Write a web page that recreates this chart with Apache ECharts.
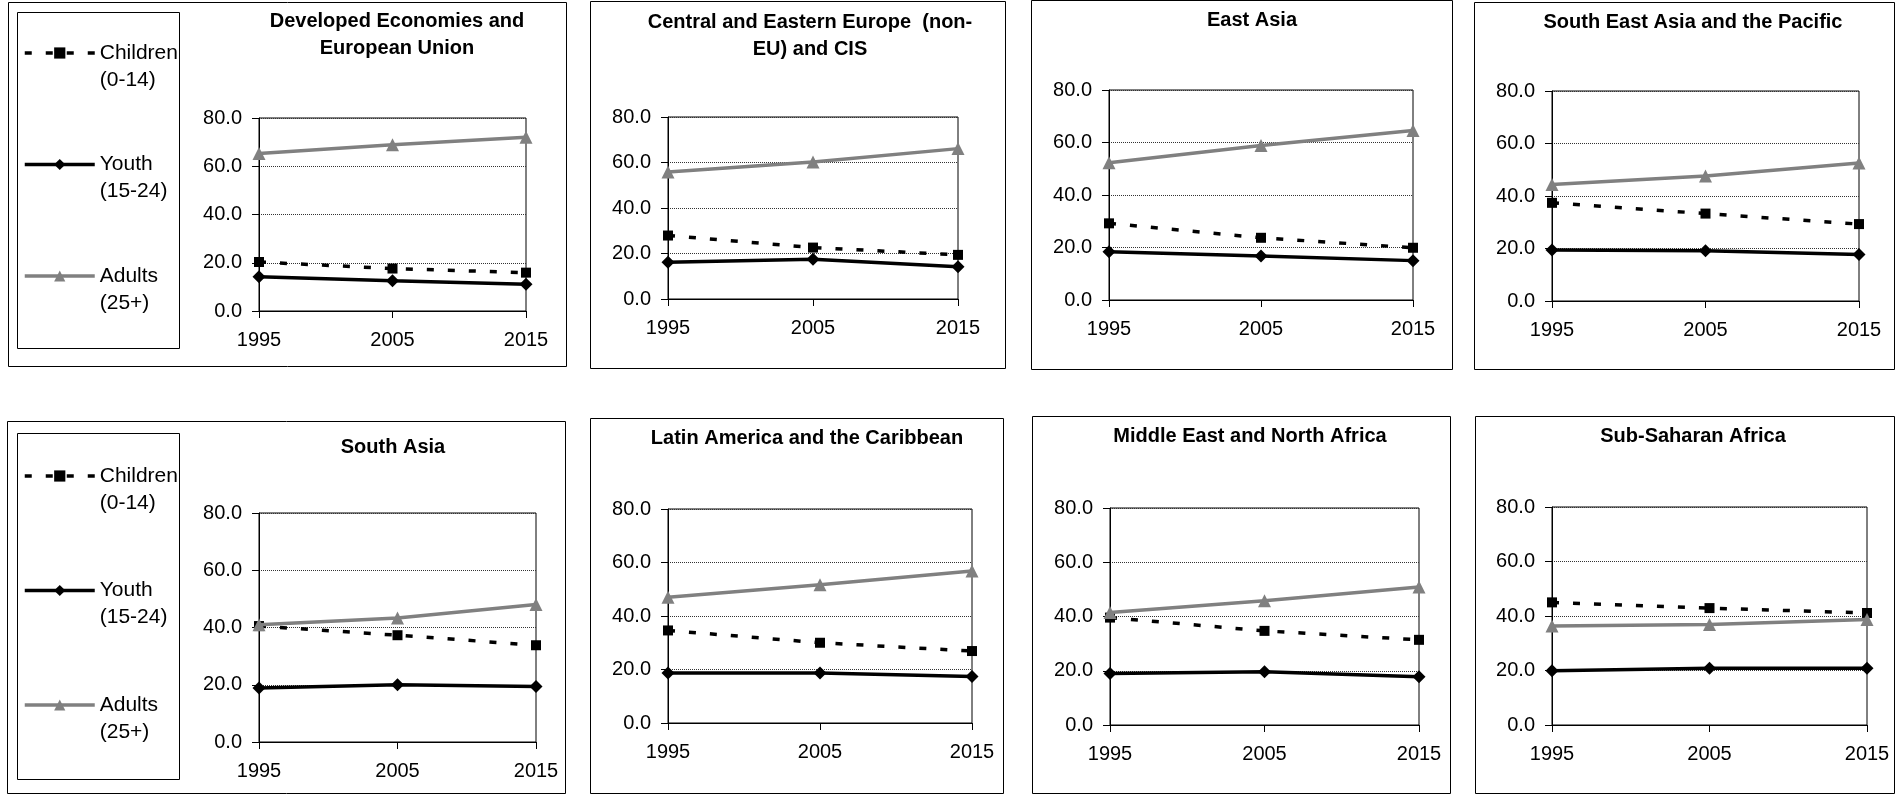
<!DOCTYPE html>
<html><head><meta charset="utf-8">
<script src="https://cdn.jsdelivr.net/npm/echarts@6/dist/echarts.min.js"></script>
<style>html,body{margin:0;padding:0;background:#fff}#c{width:1899px;height:795px}</style>
</head><body><div id="c"></div>
<script>
// ---------- data ----------
const years = ['1995', '2005', '2015'];
const regions = [
  'Developed Economies and\nEuropean Union',
  'Central and Eastern Europe  (non-\nEU) and CIS',
  'East Asia',
  'South East Asia and the Pacific',
  'South Asia',
  'Latin America and the Caribbean',
  'Middle East and North Africa',
  'Sub-Saharan Africa'
];
const seriesNames = ['Children (0-14)', 'Youth (15-24)', 'Adults (25+)'];
const children = [
  [20.3, 17.6, 15.9],
  [27.9, 22.6, 19.4],
  [29.2, 23.7, 19.9],
  [37.4, 33.3, 29.3],
  [40.5, 37.3, 33.8],
  [34.6, 30.0, 26.9],
  [39.6, 34.7, 31.4],
  [45.0, 42.9, 41.1]
];
const youth = [
  [14.2, 12.5, 11.1],
  [16.2, 17.5, 14.2],
  [18.4, 16.8, 15.0],
  [19.4, 19.1, 17.7],
  [18.9, 20.0, 19.4],
  [18.7, 18.7, 17.4],
  [19.0, 19.6, 17.8],
  [19.9, 20.8, 20.8]
];
const adults = [
  [65.3, 68.9, 72.0],
  [55.8, 60.2, 66.1],
  [52.3, 58.9, 64.6],
  [44.4, 47.6, 52.6],
  [41.0, 43.3, 48.0],
  [47.0, 51.7, 56.8],
  [41.5, 45.8, 50.9],
  [36.3, 36.9, 38.7]
];
const yMin = 0, yMax = 80, yStep = 20;

// ---------- layout (pixels) ----------
const plots = [
  [259, 118, 267, 193],
  [668, 117, 290, 182],
  [1109, 90, 304, 210],
  [1552, 91, 307, 210],
  [259, 513, 277, 229],
  [668, 509, 304, 214],
  [1110, 508, 309, 217],
  [1552, 507, 315, 218]
];
const titlePos = [
  [397, 7.5], [810, 8.5], [1252, 6.5], [1693, 8.5],
  [393, 433.5], [807, 424.5], [1250, 422.5], [1693, 422.5]
];
const frames = [
  [8, 2, 566, 366], [590, 1, 1005, 368], [1031, 0, 1452, 369], [1474, 2, 1894, 369],
  [7, 421, 565, 793], [590, 418, 1003, 793], [1032, 416, 1450, 793], [1475, 416, 1894, 793]
];
const legendBoxes = [[17, 12, 179, 348], [17, 433, 179, 779]];

const FONT = '"Liberation Sans", Arial, sans-serif';
const GRAY = '#808080';

const grid = [], xAxis = [], yAxis = [], series = [], title = [], graphic = [];
plots.forEach((p, i) => {
  grid.push({left: p[0], top: p[1], width: p[2], height: p[3], show: true,
    borderColor: '#000', borderWidth: 1, backgroundColor: 'transparent', containLabel: false, outerBoundsMode: 'none'});
  xAxis.push({type: 'category', gridIndex: i, data: years, boundaryGap: false,
    axisLine: {show: true, lineStyle: {color: '#000', width: 1}},
    axisTick: {show: true, length: 7, lineStyle: {color: '#000', width: 1}},
    axisLabel: {color: '#000', fontSize: 20, fontFamily: FONT, margin: 19},
    splitLine: {show: false}});
  yAxis.push({type: 'value', gridIndex: i, min: yMin, max: yMax, interval: yStep,
    axisLine: {show: true, lineStyle: {color: '#000', width: 1}},
    axisTick: {show: true, length: 7, lineStyle: {color: '#000', width: 1}},
    axisLabel: {color: '#000', fontSize: 20, fontFamily: FONT, margin: 17, formatter: v => v.toFixed(1)},
    splitLine: {show: true, lineStyle: {color: '#333', width: 1, type: [1, 1]}}});
  series.push({type: 'line', name: seriesNames[0], xAxisIndex: i, yAxisIndex: i, data: children[i],
    symbol: 'rect', symbolSize: 10, showSymbol: true, animation: false,
    lineStyle: {color: '#000', width: 3.5, type: [7, 14]}, itemStyle: {color: '#000'}, z: 3});
  series.push({type: 'line', name: seriesNames[1], xAxisIndex: i, yAxisIndex: i, data: youth[i],
    symbol: 'diamond', symbolSize: 13, showSymbol: true, animation: false,
    lineStyle: {color: '#000', width: 3.5}, itemStyle: {color: '#000'}, z: 4});
  series.push({type: 'line', name: seriesNames[2], xAxisIndex: i, yAxisIndex: i, data: adults[i],
    symbol: 'triangle', symbolSize: 13, showSymbol: true, animation: false,
    lineStyle: {color: GRAY, width: 3.5}, itemStyle: {color: GRAY}, z: 5});
  title.push({text: regions[i], left: titlePos[i][0], top: titlePos[i][1], textAlign: 'center', padding: 0,
    textStyle: {fontSize: 20, fontWeight: 'bold', fontFamily: FONT, color: '#000', lineHeight: 27}});
});
frames.concat(legendBoxes).forEach(f => {
  graphic.push({type: 'rect', silent: true, z: 0,
    shape: {x: f[0] + 0.5, y: f[1] + 0.5, width: f[2] - f[0], height: f[3] - f[1]},
    style: {fill: 'none', stroke: '#000', lineWidth: 1}});
});

function makeLegend(top, gap) {
  return {orient: 'vertical', left: 23, top: top, padding: 0, itemGap: gap,
    itemWidth: 70, itemHeight: 14, selectedMode: false, data: seriesNames,
    lineStyle: {width: 3.5},
    formatter: n => '\n' + n.replace(' ', '\n'),
    textStyle: {fontSize: 21, fontFamily: FONT, color: '#000', lineHeight: 27}};
}

const chart = echarts.init(document.getElementById('c'), null, {renderer: 'canvas'});
chart.setOption({
  backgroundColor: '#fff',
  animation: false,
  title: title,
  legend: [makeLegend(12.5, 30.5), makeLegend(435.5, 33.5)],
  grid: grid, xAxis: xAxis, yAxis: yAxis, series: series,
  graphic: graphic
});
</script></body></html>
